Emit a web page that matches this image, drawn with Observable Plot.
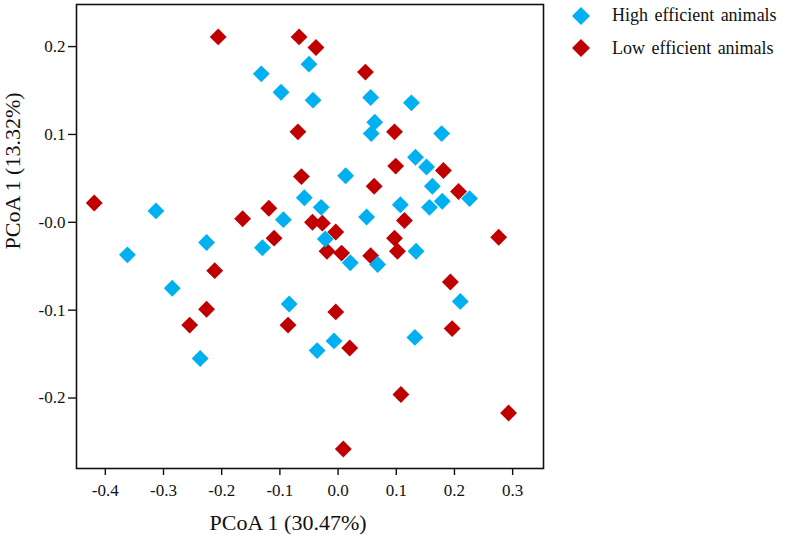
<!DOCTYPE html>
<html><head><meta charset="utf-8">
<script src="https://cdn.jsdelivr.net/npm/d3@7"></script>
<script src="https://cdn.jsdelivr.net/npm/@observablehq/plot@0.6"></script>
<style>
body{margin:0;background:#fff;}
#wrap{position:relative;width:787px;height:546px;font-family:"Liberation Serif","Times New Roman",serif;}
.item{position:absolute;left:571px;height:20px;display:flex;align-items:center;font-size:18px;color:#111;white-space:nowrap;word-spacing:2px;}
.item svg{width:20px;height:20px;margin-right:21px;}
</style></head>
<body><div id="wrap"></div>
<script>
const groups = ["High efficient animals", "Low efficient animals"];
const groupColors = ["#00B0F0", "#C00000"];
const highX = [-0.132,-0.050,-0.098,-0.043,0.056,0.126,0.063,0.057,0.178,0.013,0.133,0.152,0.162,0.226,-0.058,-0.029,0.107,0.157,0.179,-0.313,-0.094,0.049,-0.226,-0.130,-0.022,0.021,0.068,0.134,-0.362,-0.285,-0.084,0.210,-0.237,-0.007,-0.036,0.132];
const highY = [0.169,0.180,0.148,0.139,0.142,0.136,0.114,0.101,0.101,0.053,0.074,0.063,0.041,0.027,0.028,0.017,0.020,0.017,0.024,0.013,0.003,0.006,-0.023,-0.029,-0.019,-0.046,-0.048,-0.033,-0.037,-0.075,-0.093,-0.090,-0.155,-0.135,-0.146,-0.131];
const lowX = [-0.206,-0.067,-0.038,0.047,-0.069,0.097,-0.063,0.099,0.181,0.062,0.207,-0.419,-0.119,-0.164,-0.044,-0.027,-0.004,0.114,-0.110,0.097,0.276,-0.019,0.006,0.056,0.102,-0.212,0.193,-0.226,-0.255,-0.086,-0.004,0.196,0.020,0.108,0.293,0.009];
const lowY = [0.211,0.211,0.199,0.171,0.103,0.103,0.052,0.064,0.059,0.041,0.035,0.022,0.016,0.004,0.000,-0.001,-0.011,0.002,-0.018,-0.018,-0.017,-0.033,-0.035,-0.038,-0.033,-0.055,-0.068,-0.099,-0.117,-0.117,-0.102,-0.121,-0.143,-0.196,-0.217,-0.258];
const xTicks = [-0.4,-0.3,-0.2,-0.1,0,0.1,0.2,0.3];
const xTickLabels = ["-0.4","-0.3","-0.2","-0.1","0.0","0.1","0.2","0.3"];
const yTicks = [0.2,0.1,0,-0.1,-0.2];
const yTickLabels = ["0.2","0.1","-0.0","-0.1","-0.2"];
const xLabel = "PCoA 1 (30.47%)";
const yLabel = "PCoA 1 (13.32%)";

const data = [
  ...lowX.map((x,i)=>({x, y: lowY[i], g: groups[1]})),
  ...highX.map((x,i)=>({x, y: highY[i], g: groups[0]}))
];

const chart = Plot.plot({
  width: 787, height: 546,
  marginLeft: 76, marginRight: 244, marginTop: 4, marginBottom: 78,
  style: {fontFamily: '"Liberation Serif","Times New Roman",serif', fontSize: "17px", color: "#111", background: "#fff"},
  x: {domain: [-0.4495, 0.353]},
  y: {domain: [-0.2802, 0.2479]},
  color: {domain: groups, range: groupColors},
  marks: [
    Plot.dot(data, {x: "x", y: "y", fill: "g", symbol: "diamond2", r: 7.6, stroke: "none"}),
    Plot.frame({stroke: "#111", strokeWidth: 1.6}),
    Plot.axisX({ticks: xTicks, tickFormat: (d,i)=>xTickLabels[xTicks.indexOf(d)], tickSize: 7, tickPadding: 8, label: null, strokeWidth: 1.4, fontSize: 17}),
    Plot.axisY({ticks: yTicks, tickFormat: (d,i)=>yTickLabels[yTicks.indexOf(d)], tickSize: 8, tickPadding: 3, label: null, strokeWidth: 1.4, fontSize: 17}),
    Plot.text([xLabel], {text: d=>d, frameAnchor: "bottom", dx: -22, dy: 61, fontSize: 22}),
    Plot.text([yLabel], {text: d=>d, frameAnchor: "left", rotate: -90, dx: -63.5, dy: 13, fontSize: 22})
  ]
});
const wrap = document.getElementById("wrap");
wrap.appendChild(chart);
const legendY = [15.7, 48.3];
groups.forEach((g,i)=>{
  const d = document.createElement("div");
  d.className = "item";
  d.style.top = (legendY[i]-10) + "px";
  d.innerHTML = `<svg viewBox="0 0 20 20"><polygon points="10,1 19,10 10,19 1,10" fill="${groupColors[i]}"/></svg><span>${g}</span>`;
  wrap.appendChild(d);
});
</script></body></html>
